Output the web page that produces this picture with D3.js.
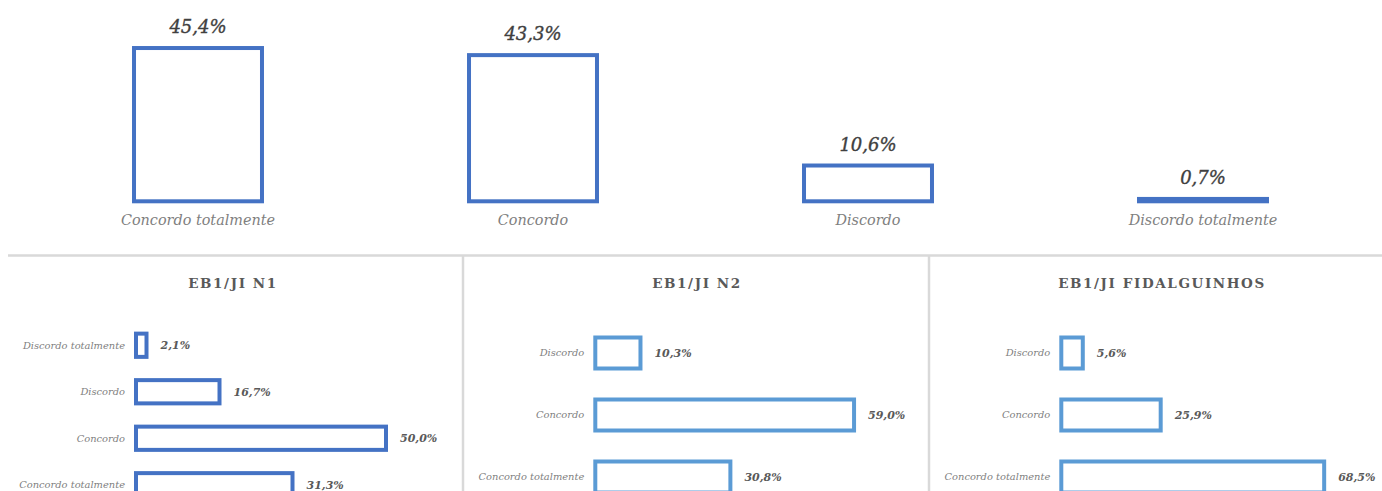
<!DOCTYPE html>
<html>
<head>
<meta charset="utf-8">
<script src="https://cdn.jsdelivr.net/npm/d3@7"></script>
<style>
  html, body { margin: 0; padding: 0; background: #fff; }
  svg { display: block; }
  text { font-family: "DejaVu Serif", "Liberation Serif", serif; }
</style>
</head>
<body>
<svg id="chart" width="1382" height="491"></svg>
<script>
// Overall answers
const totalCategories = ["Concordo totalmente", "Concordo", "Discordo", "Discordo totalmente"];
const totalValues = [45.4, 43.3, 10.6, 0.7];

// Per school
const panelTitles = ["EB1/JI N1", "EB1/JI N2", "EB1/JI FIDALGUINHOS"];
const n1Categories = ["Discordo totalmente", "Discordo", "Concordo", "Concordo totalmente"];
const n1Values = [2.1, 16.7, 50.0, 31.3];
const n2Categories = ["Discordo", "Concordo", "Concordo totalmente"];
const n2Values = [10.3, 59.0, 30.8];
const fidCategories = ["Discordo", "Concordo", "Concordo totalmente"];
const fidValues = [5.6, 25.9, 68.5];

const pt = d3.formatLocale({ decimal: ",", thousands: ".", grouping: [3], currency: ["", " €"] });
const fmt = v => pt.format(".1f")(v) + "%";

const svg = d3.select("#chart");
const BLUE = "#4472C4";
const LIGHT_BLUE = "#5B9BD5";

// ---- Top: column chart of the overall answers ----
const xTop = d3.scaleBand().domain(totalCategories).range([30.5, 1370.5])
  .paddingInner(0.618).paddingOuter(0.309);
const yTop = d3.scaleLinear().domain([0, 50]).range([201.3, 32.5]);
const topData = totalCategories.map((c, i) => ({ c, v: totalValues[i] }));

const overall = svg.append("g");
overall.selectAll("rect").data(topData).join("rect")
  .attr("x", d => xTop(d.c))
  .attr("y", d => yTop(d.v))
  .attr("width", xTop.bandwidth())
  .attr("height", d => yTop(0) - yTop(d.v))
  .attr("fill", "none")
  .attr("stroke", BLUE)
  .attr("stroke-width", 4);

overall.selectAll("text.val").data(topData).join("text")
  .attr("class", "val")
  .attr("x", d => xTop(d.c) + xTop.bandwidth() / 2)
  .attr("y", d => yTop(d.v) - 15)
  .attr("text-anchor", "middle")
  .attr("font-size", 18)
  .attr("font-style", "italic")
  .attr("fill", "#404040")
  .attr("stroke", "#404040")
  .attr("stroke-width", 0.35)
  .text(d => fmt(d.v));

overall.selectAll("text.cat").data(topData).join("text")
  .attr("class", "cat")
  .attr("x", d => xTop(d.c) + xTop.bandwidth() / 2)
  .attr("y", 225)
  .attr("text-anchor", "middle")
  .attr("font-size", 14.4)
  .attr("font-style", "italic")
  .attr("fill", "#7f7f7f")
  .text(d => d.c);

// ---- Separators between the panels ----
const GRID = "#d9d9d9";
svg.append("line").attr("x1", 8).attr("x2", 1382).attr("y1", 255.5).attr("y2", 255.5)
  .attr("stroke", GRID).attr("stroke-width", 2.5);
[463, 929].forEach(x => {
  svg.append("line").attr("x1", x).attr("x2", x).attr("y1", 256).attr("y2", 491)
    .attr("stroke", GRID).attr("stroke-width", 2.5);
});

// ---- Bottom: one horizontal bar chart per school ----
const panels = [
  { title: panelTitles[0], cats: n1Categories, vals: n1Values, color: BLUE,
    cx: 233, xDomain: [0, 60], xRange: [136, 436] },
  { title: panelTitles[1], cats: n2Categories, vals: n2Values, color: LIGHT_BLUE,
    cx: 697, xDomain: [0, 70], xRange: [595.3, 902.3] },
  { title: panelTitles[2], cats: fidCategories, vals: fidValues, color: LIGHT_BLUE,
    cx: 1162, xDomain: [0, 80], xRange: [1061.3, 1368.3] }
];

panels.forEach(p => {
  const g = svg.append("g");
  const x = d3.scaleLinear().domain(p.xDomain).range(p.xRange);
  const y = d3.scaleBand().domain(p.cats).range([322, 508])
    .paddingInner(0.5).paddingOuter(0.25);
  const data = p.cats.map((c, i) => ({ c, v: p.vals[i] }));

  g.append("text")
    .attr("x", p.cx).attr("y", 288)
    .attr("text-anchor", "middle")
    .attr("font-size", 13.5)
    .attr("font-weight", "bold")
    .attr("letter-spacing", 1.6)
    .attr("fill", "#595959")
    .text(p.title);

  g.selectAll("rect").data(data).join("rect")
    .attr("x", x(0))
    .attr("y", d => y(d.c))
    .attr("width", d => x(d.v) - x(0))
    .attr("height", y.bandwidth())
    .attr("fill", "none")
    .attr("stroke", p.color)
    .attr("stroke-width", 4);

  g.selectAll("text.cat").data(data).join("text")
    .attr("class", "cat")
    .attr("x", x(0) - 11)
    .attr("y", d => y(d.c) + y.bandwidth() / 2)
    .attr("dy", "0.35em")
    .attr("text-anchor", "end")
    .attr("font-size", 9.9)
    .attr("font-style", "italic")
    .attr("fill", "#7f7f7f")
    .text(d => d.c);

  g.selectAll("text.val").data(data).join("text")
    .attr("class", "val")
    .attr("x", d => x(d.v) + 14)
    .attr("y", d => y(d.c) + y.bandwidth() / 2)
    .attr("dy", "0.35em")
    .attr("font-size", 11)
    .attr("font-style", "italic")
    .attr("font-weight", "bold")
    .attr("fill", "#595959")
    .text(d => fmt(d.v));
});
</script>
</body>
</html>
